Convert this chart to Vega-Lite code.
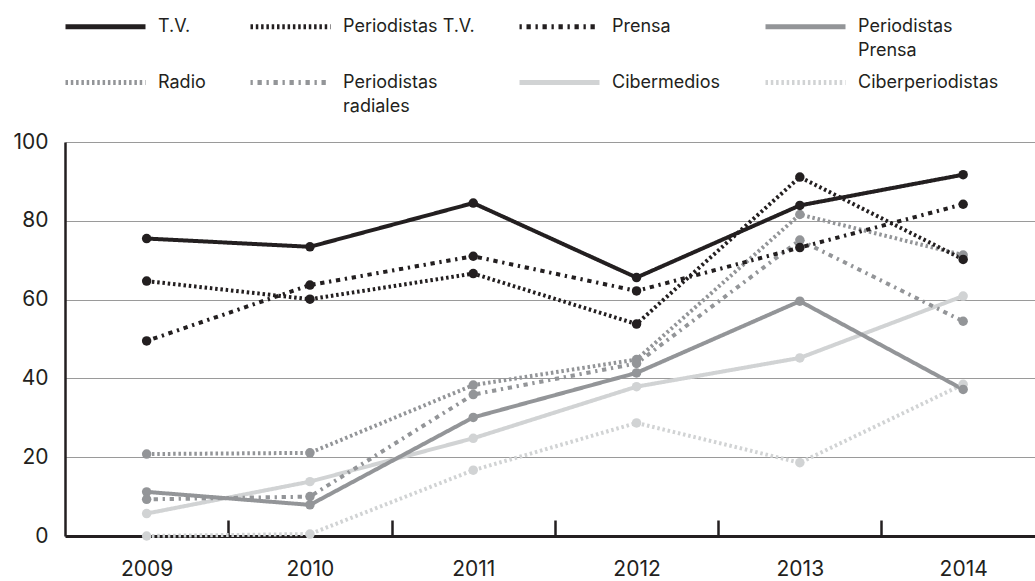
{
  "$schema": "https://vega.github.io/schema/vega-lite/v6.json",
  "width": 970,
  "height": 394,
  "autosize": {"type": "none"},
  "padding": {"left": 65, "top": 142, "right": 0, "bottom": 45},
  "background": "white",
  "config": {"view": {"stroke": null}, "font": "Inter"},
  "data": {"values": [
    {"year": 2009, "serie": "Cibermedios", "value": 5.7},
    {"year": 2010, "serie": "Cibermedios", "value": 13.8},
    {"year": 2011, "serie": "Cibermedios", "value": 24.8},
    {"year": 2012, "serie": "Cibermedios", "value": 37.9},
    {"year": 2013, "serie": "Cibermedios", "value": 45.2},
    {"year": 2014, "serie": "Cibermedios", "value": 60.9},
    {"year": 2009, "serie": "Ciberperiodistas", "value": 0},
    {"year": 2010, "serie": "Ciberperiodistas", "value": 0.5},
    {"year": 2011, "serie": "Ciberperiodistas", "value": 16.7},
    {"year": 2012, "serie": "Ciberperiodistas", "value": 28.7},
    {"year": 2013, "serie": "Ciberperiodistas", "value": 18.6},
    {"year": 2014, "serie": "Ciberperiodistas", "value": 38.5},
    {"year": 2009, "serie": "Periodistas Prensa", "value": 11.2},
    {"year": 2010, "serie": "Periodistas Prensa", "value": 7.9},
    {"year": 2011, "serie": "Periodistas Prensa", "value": 30.1},
    {"year": 2012, "serie": "Periodistas Prensa", "value": 41.4},
    {"year": 2013, "serie": "Periodistas Prensa", "value": 59.6},
    {"year": 2014, "serie": "Periodistas Prensa", "value": 37.2},
    {"year": 2009, "serie": "Radio", "value": 20.8},
    {"year": 2010, "serie": "Radio", "value": 21.1},
    {"year": 2011, "serie": "Radio", "value": 38.3},
    {"year": 2012, "serie": "Radio", "value": 44.8},
    {"year": 2013, "serie": "Radio", "value": 81.6},
    {"year": 2014, "serie": "Radio", "value": 71.3},
    {"year": 2009, "serie": "Periodistas radiales", "value": 9.3},
    {"year": 2010, "serie": "Periodistas radiales", "value": 10.0},
    {"year": 2011, "serie": "Periodistas radiales", "value": 35.9},
    {"year": 2012, "serie": "Periodistas radiales", "value": 43.8},
    {"year": 2013, "serie": "Periodistas radiales", "value": 75.1},
    {"year": 2014, "serie": "Periodistas radiales", "value": 54.5},
    {"year": 2009, "serie": "Prensa", "value": 49.5},
    {"year": 2010, "serie": "Prensa", "value": 63.7},
    {"year": 2011, "serie": "Prensa", "value": 71.0},
    {"year": 2012, "serie": "Prensa", "value": 62.2},
    {"year": 2013, "serie": "Prensa", "value": 73.2},
    {"year": 2014, "serie": "Prensa", "value": 84.2},
    {"year": 2009, "serie": "Periodistas T.V.", "value": 64.7},
    {"year": 2010, "serie": "Periodistas T.V.", "value": 60.1},
    {"year": 2011, "serie": "Periodistas T.V.", "value": 66.6},
    {"year": 2012, "serie": "Periodistas T.V.", "value": 53.8},
    {"year": 2013, "serie": "Periodistas T.V.", "value": 91.1},
    {"year": 2014, "serie": "Periodistas T.V.", "value": 70.2},
    {"year": 2009, "serie": "T.V.", "value": 75.5},
    {"year": 2010, "serie": "T.V.", "value": 73.4},
    {"year": 2011, "serie": "T.V.", "value": 84.5},
    {"year": 2012, "serie": "T.V.", "value": 65.6},
    {"year": 2013, "serie": "T.V.", "value": 83.9},
    {"year": 2014, "serie": "T.V.", "value": 91.7}
  ]},
  "resolve": {"axis": {"x": "independent"}},
  "encoding": {
    "y": {
      "field": "value", "type": "quantitative",
      "scale": {"domain": [0, 100]},
      "axis": {
        "title": null,
        "values": [0, 20, 40, 60, 80, 100],
        "ticks": false,
        "labelPadding": 17,
        "labelFontSize": 21,
        "labelColor": "#231f20",
        "domainColor": "#231f20",
        "domainWidth": 2.5,
        "gridColor": "#9a9a9a",
        "gridWidth": 1
      }
    },
    "color": {
      "field": "serie", "type": "nominal",
      "scale": {
        "domain": ["T.V.", "Periodistas T.V.", "Prensa", "Periodistas Prensa", "Radio", "Periodistas radiales", "Cibermedios", "Ciberperiodistas"],
        "range": ["#231f20", "#231f20", "#231f20", "#939598", "#939598", "#939598", "#d1d3d4", "#d1d3d4"]
      },
      "legend": {
        "orient": "none", "legendX": -2, "legendY": -128,
        "direction": "horizontal", "columns": 4, "title": null,
        "symbolType": "M-1,0H7", "symbolSize": 400, "symbolStrokeWidth": 5,
        "labelFontSize": 18, "labelColor": "#231f20", "labelOffset": 70,
        "columnPadding": 34, "rowPadding": 10, "labelLimit": 0,
        "labelExpr": "datum.label == 'Periodistas Prensa' ? ['Periodistas', 'Prensa'] : datum.label == 'Periodistas radiales' ? ['Periodistas', 'radiales'] : [datum.label, '']",
        "encode": {"labels": {"update": {"lineHeight": {"value": 24}}}}
      }
    }
  },
  "layer": [
    {
      "mark": {"type": "line", "strokeWidth": 4},
      "encoding": {
        "x": {
          "field": "year", "type": "quantitative",
          "scale": {"domain": [2008.5, 2014.44], "nice": false, "zero": false},
          "axis": {
            "title": null,
            "values": [2009, 2010, 2011, 2012, 2013, 2014],
            "format": "d",
            "labelOverlap": false,
            "labelFlush": false,
            "grid": false,
            "ticks": false,
            "domainColor": "#231f20",
            "domainWidth": 3,
            "labelFontSize": 21,
            "labelColor": "#231f20",
            "labelPadding": 22
          }
        },
        "strokeDash": {
          "field": "serie", "type": "nominal",
          "scale": {
            "domain": ["T.V.", "Periodistas T.V.", "Prensa", "Periodistas Prensa", "Radio", "Periodistas radiales", "Cibermedios", "Ciberperiodistas"],
            "range": [[1, 0], [2.5, 2.8], [2.3, 4.7, 4.3, 4.7], [1, 0], [2.5, 2.8], [2.3, 4.7, 4.3, 4.7], [1, 0], [2.5, 2.8]]
          },
          "legend": {
            "orient": "none", "legendX": -2, "legendY": -128,
            "direction": "horizontal", "columns": 4, "title": null,
            "symbolType": "M-1,0H7", "symbolSize": 400, "symbolStrokeWidth": 5,
            "labelFontSize": 18, "labelColor": "#231f20", "labelOffset": 70,
            "columnPadding": 34, "rowPadding": 10, "labelLimit": 0,
            "labelExpr": "datum.label == 'Periodistas Prensa' ? ['Periodistas', 'Prensa'] : datum.label == 'Periodistas radiales' ? ['Periodistas', 'radiales'] : [datum.label, '']",
            "encode": {"labels": {"update": {"lineHeight": {"value": 24}}}}
          }
        }
      }
    },
    {
      "mark": {"type": "circle", "size": 90, "opacity": 1},
      "encoding": {
        "x": {
          "field": "year", "type": "quantitative",
          "scale": {"domain": [2008.5, 2014.44], "nice": false, "zero": false},
          "axis": {
            "title": null,
            "orient": "top",
            "offset": -394,
            "values": [2009.5, 2010.5, 2011.5, 2012.5, 2013.5],
            "labels": false,
            "domain": false,
            "grid": false,
            "ticks": true,
            "tickSize": 16,
            "tickWidth": 2.5,
            "tickColor": "#231f20"
          }
        }
      }
    }
  ]
}
